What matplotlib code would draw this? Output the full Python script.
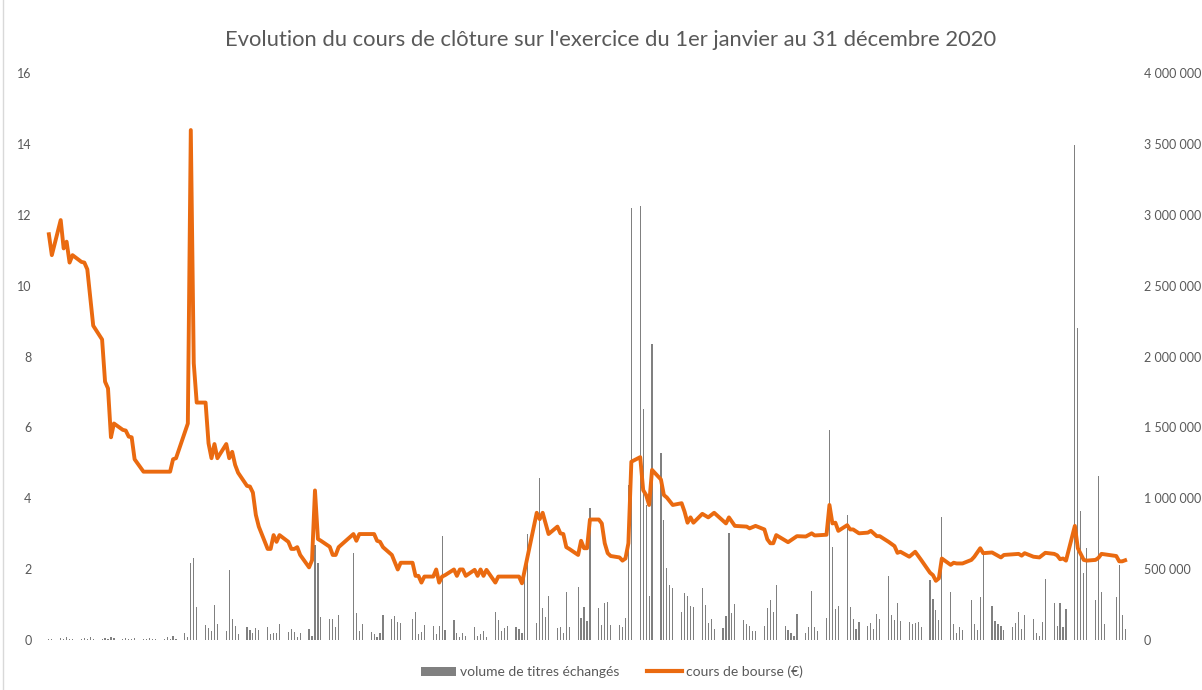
import pandas as pd
import matplotlib
matplotlib.use("Agg")
import matplotlib.pyplot as plt
from matplotlib.patches import Patch
from matplotlib.lines import Line2D

plt.rcParams["font.family"] = ["Lato", "DejaVu Sans"]

# closing price, read at turning points (day offset from 1 Jan 2020, price in EUR)
price_day = [1, 2, 5, 6, 7, 8, 9, 12, 13, 14, 16, 19, 20, 21, 22, 23, 26, 27, 28, 29,
             30, 33, 42, 43, 44, 48, 49, 50, 51, 54, 55, 56, 57, 58, 61, 62, 63, 64, 65, 68,
             69, 70, 71, 72, 75, 76, 77, 78, 79, 82, 83, 84, 85, 86, 89, 90, 91, 92, 93, 96,
             97, 98, 99, 104, 105, 106, 111, 112, 113, 114, 117, 119, 120, 124, 125, 126, 127, 128, 131, 132,
             133, 134, 135, 138, 139, 140, 141, 142, 145, 146, 147, 148, 149, 152, 153, 160, 161, 163, 166, 167,
             168, 170, 173, 174, 175, 176, 177, 180, 181, 182, 183, 184, 187, 188, 189, 190, 191, 194, 195, 196,
             197, 198, 201, 202, 203, 204, 205, 208, 209, 210, 212, 215, 216, 217, 218, 219, 222, 224, 226, 230,
             231, 233, 237, 238, 240, 243, 244, 245, 246, 247, 251, 254, 257, 259, 260, 264, 265, 266, 267, 268,
             271, 272, 273, 275, 278, 279, 281, 282, 285, 287, 288, 289, 292, 294, 296, 299, 300, 301, 302, 303,
             306, 307, 308, 310, 313, 314, 316, 317, 320, 323, 324, 329, 330, 331, 334, 336, 338, 341, 342, 343,
             344, 345, 348, 349, 351, 352, 355, 356, 357, 362, 363, 364, 365]
price = [11.45, 10.86, 11.85, 11.05, 11.24, 10.65, 10.86, 10.67, 10.65, 10.46, 8.87, 8.48, 7.29, 7.10, 5.72, 6.11, 5.93, 5.91, 5.74, 5.72,
         5.10, 4.75, 4.75, 5.10, 5.13, 6.11, 14.39, 7.81, 6.70, 6.70, 5.55, 5.13, 5.53, 5.13, 5.53, 5.13, 5.31, 4.94, 4.72, 4.35,
         4.33, 4.16, 3.53, 3.20, 2.57, 2.57, 2.96, 2.77, 2.96, 2.77, 2.57, 2.57, 2.62, 2.40, 2.05, 2.25, 4.22, 2.85, 2.80, 2.63,
         2.40, 2.40, 2.62, 2.99, 2.80, 2.99, 2.99, 2.80, 2.77, 2.62, 2.40, 1.99, 2.18, 2.18, 1.81, 1.81, 1.62, 1.79, 1.79, 1.99,
         1.62, 1.79, 1.83, 1.99, 1.81, 1.99, 1.99, 1.81, 1.98, 1.81, 1.99, 1.81, 1.98, 1.62, 1.79, 1.79, 1.60, 2.40, 3.59, 3.41,
         3.59, 2.99, 3.20, 3.01, 2.99, 2.62, 2.57, 2.40, 2.80, 2.59, 2.59, 3.40, 3.40, 3.29, 2.73, 2.45, 2.37, 2.33, 2.24, 2.30,
         2.73, 5.03, 5.16, 4.23, 4.09, 3.81, 4.80, 4.53, 4.09, 4.02, 3.81, 3.86, 3.62, 3.31, 3.46, 3.31, 3.56, 3.46, 3.59, 3.29,
         3.46, 3.22, 3.20, 3.15, 3.22, 3.12, 2.84, 2.73, 2.73, 2.96, 2.76, 2.93, 2.92, 3.01, 2.95, 2.97, 3.81, 3.29, 3.31, 3.08,
         3.24, 3.12, 3.12, 3.01, 3.03, 3.08, 2.93, 2.93, 2.77, 2.65, 2.46, 2.49, 2.35, 2.49, 2.26, 1.90, 1.83, 1.67, 1.74, 2.30,
         2.12, 2.18, 2.16, 2.16, 2.26, 2.35, 2.59, 2.45, 2.47, 2.33, 2.40, 2.43, 2.38, 2.45, 2.35, 2.33, 2.46, 2.43, 2.39, 2.28,
         2.30, 2.24, 3.22, 2.59, 2.26, 2.24, 2.26, 2.32, 2.43, 2.37, 2.22, 2.22, 2.25]

# daily traded volume, one row per week
volume = [
    6000, 9000,
    12000, 4000, 22000, 9000, 6000,
    5000, 15000, 9000, 18000, 7000,
    8000, 14000, 6000, 20000, 11000,
    4000, 16000, 8000, 5000, 13000,
    9000, 6000, 14000, 7000, 5000,
    5000, 18000, 7000, 28000, 10000,
    47000, 20000, 541000, 576000, 235000,
    106000, 87000, 66000, 245000, 111000,
    64000, 494000, 148000, 101000, 42000,
    94000, 71000, 52000, 82000, 71000,
    94000, 42000, 52000, 52000, 111000,
    54000, 75000, 59000, 23000, 52000,
    78000, 28000, 670000, 545000, 165000,
    148000, 148000, 94000, 176000,
    616000, 188000, 66000, 111000,
    59000, 42000, 19000, 47000, 176000,
    146000, 169000, 129000, 122000,
    148000, 200000, 42000, 59000, 106000,
    99000, 42000, 99000, 734000, 71000,
    141000, 52000, 23000, 47000, 30000,
    94000, 28000, 42000, 66000, 19000,
    200000, 141000, 66000, 82000, 99000,
    94000, 75000, 47000, 450000, 748000,
    118000, 1140000, 228000, 160000, 310000,
    82000, 89000, 47000, 336000, 89000,
    372000, 153000, 235000, 136000, 929000,
    228000, 106000, 259000, 270000, 106000,
    106000, 89000, 153000, 1090000, 3050000,
    3060000, 1630000, 952000, 310000, 2090000,
    1320000, 847000, 506000, 388000, 365000,
    200000, 331000, 310000, 240000, 235000,
    367000, 247000, 120000, 148000, 78000,
    85000, 169000, 757000, 190000, 254000,
    141000, 113000, 101000, 66000, 66000,
    99000, 224000, 282000, 200000, 386000,
    101000, 71000, 47000, 30000, 183000,
    47000, 92000, 348000, 92000, 66000,
    153000, 1480000, 658000, 219000, 240000,
    880000, 231000, 148000, 78000, 125000,
    99000, 118000, 78000, 183000, 150000,
    454000, 174000, 141000, 259000, 136000,
    125000, 115000, 118000, 125000, 89000,
    423000, 287000, 212000, 141000, 865000,
    341000, 111000, 47000, 89000, 71000,
    282000, 111000, 71000, 306000, 623000,
    240000, 134000, 111000, 101000, 71000,
    89000, 122000, 195000, 80000, 174000,
    148000, 47000, 30000, 125000, 428000,
    263000, 101000, 263000, 89000, 216000,
    3490000, 2200000, 910000, 470000, 650000,
    280000, 1160000, 340000, 110000,
    300000, 530000, 175000, 80000,
]

holidays = ["2020-04-10", "2020-04-13", "2020-05-01", "2020-12-25"]
trade_days = pd.bdate_range("2020-01-02", "2020-12-31").drop(pd.to_datetime(holidays))
line_dates = pd.Timestamp("2020-01-01") + pd.to_timedelta(price_day, unit="D")

text_col = "#595959"
orange = "#EA6A10"
grey = "#808080"

fig = plt.figure(figsize=(12.02, 6.9), dpi=100)
ax = fig.add_axes([40 / 1202, 50 / 690, 1094 / 1202, 567 / 690])
ax2 = ax.twinx()

ax2.bar(trade_days, volume, width=0.4, color=grey, linewidth=0)
ax.plot(line_dates, price, color=orange, linewidth=2.8, solid_joinstyle="round")

ax.set_zorder(ax2.get_zorder() + 1)
ax.patch.set_visible(False)

ax.set_xlim(pd.Timestamp("2019-12-30"), pd.Timestamp("2021-01-03"))
ax.set_ylim(0, 16)
ax2.set_ylim(0, 4000000)
ax.set_yticks(range(0, 17, 2))
vt = list(range(0, 4000001, 500000))
ax2.set_yticks(vt)
ax2.set_yticklabels([f"{v:,}".replace(",", " ") for v in vt])
ax.set_xticks([])

for a in (ax, ax2):
    for s in a.spines.values():
        s.set_visible(False)
    a.tick_params(axis="y", length=0, labelsize=9, labelcolor=text_col)
ax.tick_params(axis="y", pad=6)
ax2.tick_params(axis="y", pad=7)

fig.text(0.508, 0.942, "Evolution du cours de clôture sur l'exercice du 1er janvier au 31 décembre 2020",
         ha="center", va="center", fontsize=15.8, color=text_col)

handles = [Patch(facecolor=grey, edgecolor="none"),
           Line2D([0], [0], color=orange, linewidth=3)]
fig.legend(handles, ["volume de titres échangés", "cours de bourse (€)"],
           loc="center", bbox_to_anchor=(0.509, 0.026), ncol=2, frameon=False,
           fontsize=10, labelcolor=text_col, handlelength=2.5, handleheight=0.7,
           handletextpad=0.3, columnspacing=2.0)

fig.add_artist(Line2D([3 / 1202, 3 / 1202], [0, 1], color="#D9D9D9", linewidth=1))

fig.savefig("out.png", dpi=100)
